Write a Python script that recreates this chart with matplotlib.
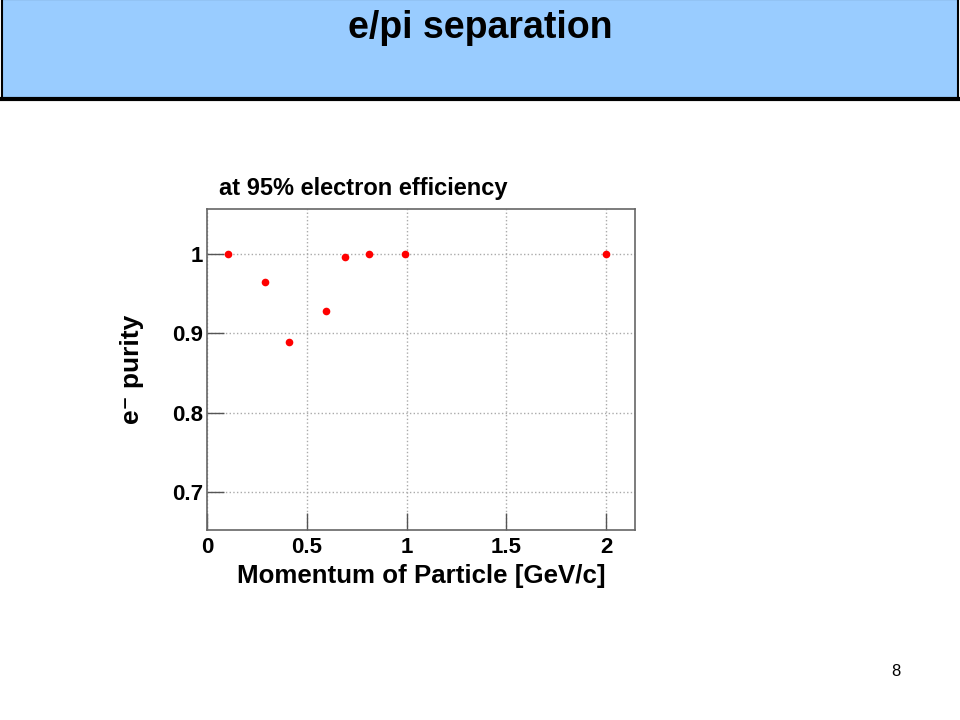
import matplotlib
matplotlib.use('Agg')
import matplotlib.pyplot as plt
from matplotlib.patches import Rectangle

plt.rcParams['font.family'] = ['Liberation Sans', 'DejaVu Sans']

# 数据: momentum [GeV/c] vs e- purity
momentum = [0.105, 0.29, 0.41, 0.595, 0.69, 0.81, 0.99, 2.0]
purity = [1.0, 0.965, 0.889, 0.928, 0.996, 1.0, 1.0, 1.0]
x_ticks = [0, 0.5, 1, 1.5, 2]
x_labels = ['0', '0.5', '1', '1.5', '2']
y_ticks = [0.7, 0.8, 0.9, 1.0]
y_labels = ['0.7', '0.8', '0.9', '1']

fig = plt.figure(figsize=(9.6, 7.2), dpi=100)

# 标题栏
bar = Rectangle((0.002, 0.862), 0.996, 0.14, transform=fig.transFigure,
                facecolor='#99CCFF', edgecolor='black', linewidth=1.5)
fig.patches.append(bar)
fig.add_artist(plt.Line2D([0.002, 0.998], [0.862, 0.862], transform=fig.transFigure,
                          color='black', linewidth=3))
fig.text(0.5, 1 - 28/720, 'e/pi separation', ha='center', va='center',
         fontsize=27, fontweight='bold')

# 主图
ax = fig.add_axes([207/960, 1 - 530/720, 428/960, 321/720])
ax.plot(momentum, purity, 'o', color='red', markersize=5.5, markeredgewidth=0)
ax.set_xlim(0, 2.145)
ax.set_ylim(0.652, 1.057)
ax.set_xticks(x_ticks)
ax.set_xticklabels(x_labels)
ax.set_yticks(y_ticks)
ax.set_yticklabels(y_labels)
ax.tick_params(direction='in', length=12, width=1, color='#555555',
               labelsize=16, pad=5)
ax.tick_params(axis='y', pad=3)
for lab in ax.get_xticklabels() + ax.get_yticklabels():
    lab.set_fontweight('bold')
ax.grid(True, linestyle=':', color='#aaaaaa', linewidth=1)
for s in ax.spines.values():
    s.set_color('#666666')
    s.set_linewidth(1.2)

ax.set_xlabel('Momentum of Particle [GeV/c]', fontsize=18.6, fontweight='bold', labelpad=4)
ax.set_ylabel('e\u207b purity', fontsize=19, fontweight='bold', labelpad=20)

fig.text(219/960, 1 - 189/720, 'at 95% electron efficiency', ha='left', va='center',
         fontsize=17, fontweight='bold')

# 页码
fig.text(896/960, 1 - 672/720, '8', ha='center', va='center', fontsize=12)

plt.savefig('out.png', dpi=100)
plt.close()
